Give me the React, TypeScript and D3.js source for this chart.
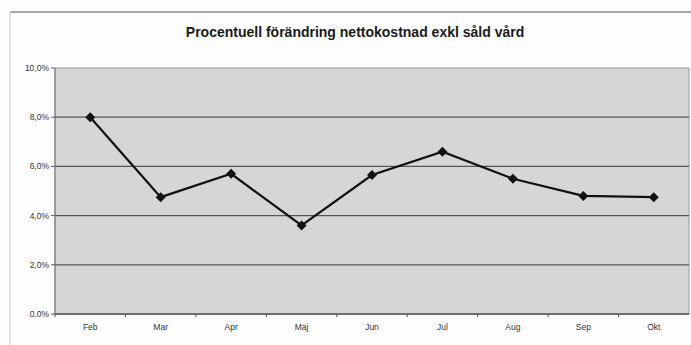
import React from "react";
import * as d3 from "d3";

const months = ["Feb", "Mar", "Apr", "Maj", "Jun", "Jul", "Aug", "Sep", "Okt"];
const values = [8.0, 4.75, 5.7, 3.6, 5.65, 6.6, 5.5, 4.8, 4.75];
const yTicks = [0, 2, 4, 6, 8, 10];
const title = "Procentuell förändring nettokostnad exkl såld vård";

export default function App() {
  const W = 691, H = 345;
  const left = 55, right = 689, top = 68, bottom = 314;
  const x = d3.scaleBand<string>().domain(months).range([left, right]);
  const y = d3.scaleLinear().domain([0, 10]).range([bottom, top]);
  const line = d3
    .line<number>()
    .x((_, i) => (x(months[i]) as number) + x.bandwidth() / 2)
    .y((d) => y(d));
  const fmt = (v: number) => v.toFixed(1).replace(".", ",") + "%";
  return (
    <svg
      width={W}
      height={H}
      style={{ position: "absolute", left: 0, top: 0, background: "#fff" }}
      fontFamily="Liberation Sans, Arial, sans-serif"
    >
      <rect x={0} y={0} width={W} height={H} fill="#fdfdfd" />
      {/* outer frame */}
      <line x1={10} y1={12} x2={W} y2={12} stroke="#8a8a8a" strokeWidth={1.5} />
      <line x1={10} y1={12} x2={10} y2={H} stroke="#c8c8c8" strokeWidth={1} />
      <text x={355} y={37} textAnchor="middle" fontSize={14} fontWeight="bold" fill="#1a1a1a">
        {title}
      </text>
      {/* plot area */}
      <rect x={left} y={top} width={right - left} height={bottom - top} fill="#d6d6d6" stroke="#9a9a9a" />
      {yTicks.map((t) => (
        <g key={t}>
          {t > 0 && t < 10 && (
            <line x1={left} x2={right} y1={y(t)} y2={y(t)} stroke="#555" strokeWidth={1.2} />
          )}
          <line x1={left - 4} x2={left} y1={y(t)} y2={y(t)} stroke="#555" />
          <text x={left - 6} y={y(t) + 3} textAnchor="end" fontSize={8.5} fill="#333">
            {fmt(t)}
          </text>
        </g>
      ))}
      <line x1={left} x2={right} y1={bottom} y2={bottom} stroke="#555" strokeWidth={1.5} />
      <line x1={left} x2={left} y1={top} y2={bottom} stroke="#777" strokeWidth={1} />
      {months.map((m) => (
        <g key={m}>
          <line
            x1={x(m) as number}
            x2={x(m) as number}
            y1={bottom}
            y2={bottom + 3}
            stroke="#555"
          />
          <text
            x={(x(m) as number) + x.bandwidth() / 2}
            y={bottom + 16}
            textAnchor="middle"
            fontSize={8.5}
            fill="#333"
          >
            {m}
          </text>
        </g>
      ))}
      <path d={line(values) || ""} fill="none" stroke="#111" strokeWidth={2.2} />
      {values.map((v, i) => {
        const cx = (x(months[i]) as number) + x.bandwidth() / 2;
        const cy = y(v);
        return (
          <path
            key={i}
            d={`M${cx},${cy - 5}L${cx + 5},${cy}L${cx},${cy + 5}L${cx - 5},${cy}Z`}
            fill="#111"
          />
        );
      })}
    </svg>
  );
}
